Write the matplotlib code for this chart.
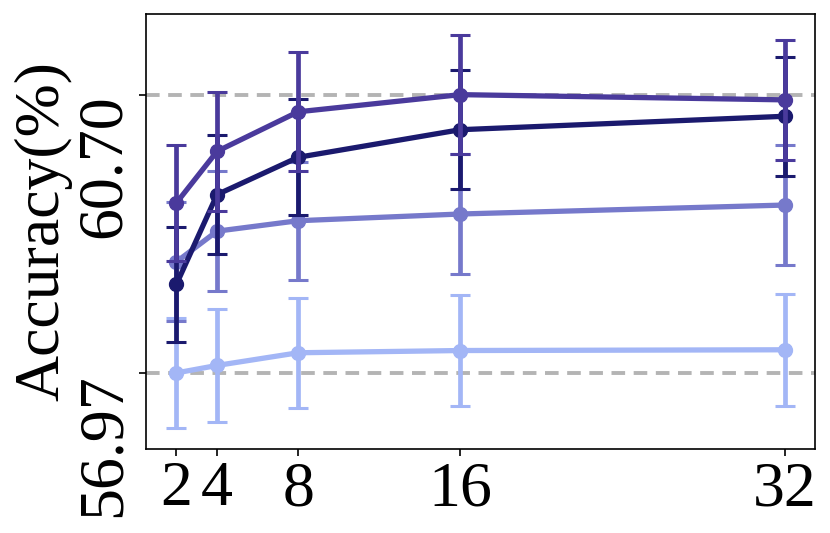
import matplotlib
matplotlib.use("Agg")
import matplotlib.pyplot as plt
import matplotlib.transforms as mtransforms

plt.rcParams['font.family'] = ['Liberation Serif', 'DejaVu Serif']

x_vals = [2, 4, 8, 16, 32]
x_labels = ['2', '4', '8', '16', '32']

acc_light = [56.97, 57.07, 57.24, 57.27, 57.28]
err_light = [0.74, 0.76, 0.74, 0.74, 0.75]
acc_medium = [58.46, 58.87, 59.01, 59.10, 59.22]
err_medium = [0.80, 0.80, 0.79, 0.80, 0.80]
acc_navy = [58.16, 59.36, 59.86, 60.23, 60.41]
err_navy = [0.77, 0.80, 0.78, 0.80, 0.80]
acc_purple = [59.25, 59.94, 60.47, 60.70, 60.63]
err_purple = [0.78, 0.80, 0.80, 0.80, 0.80]

y_ticks = [56.97, 60.70]
y_tick_labels = ['56.97', '60.70']

series = [
    (acc_light, err_light, '#a3b6f6'),
    (acc_medium, err_medium, '#7679cb'),
    (acc_navy, err_navy, '#1b1a6e'),
    (acc_purple, err_purple, '#4a3a9c'),
]

fig = plt.figure(figsize=(8.3, 5.33), dpi=100)
ax = fig.add_axes([0.176, 0.1576, 0.806, 0.816])

for yv in y_ticks:
    ax.axhline(yv, color='#b4b4b4', linestyle=(0, (3.5, 2.2)), linewidth=2.8, zorder=1)

for i, (vals, errs, col) in enumerate(series):
    ax.errorbar(x_vals, vals, yerr=errs, color=col, marker='o', markersize=10,
                linewidth=3.8, elinewidth=3.4, capsize=7, capthick=2.2,
                zorder=2 + i)

ax.set_xlim(0.5, 33.5)
ax.set_ylim(55.95, 61.78)
ax.set_xticks(x_vals)
ax.set_xticklabels(x_labels, fontsize=46)
ax.set_yticks(y_ticks)
ax.set_yticklabels(y_tick_labels, fontsize=46, rotation=90, va='top')
offset = mtransforms.ScaledTranslation(-2 / 100.0, 18 / 100.0, fig.dpi_scale_trans)
for lab in ax.get_yticklabels():
    lab.set_transform(lab.get_transform() + offset)
ax.tick_params(axis='both', length=5, width=1.2, pad=4)
ax.set_ylabel('Accuracy(%)', fontsize=46, labelpad=2)
for sp in ax.spines.values():
    sp.set_linewidth(1.2)

fig.savefig('out.png', dpi=100)
